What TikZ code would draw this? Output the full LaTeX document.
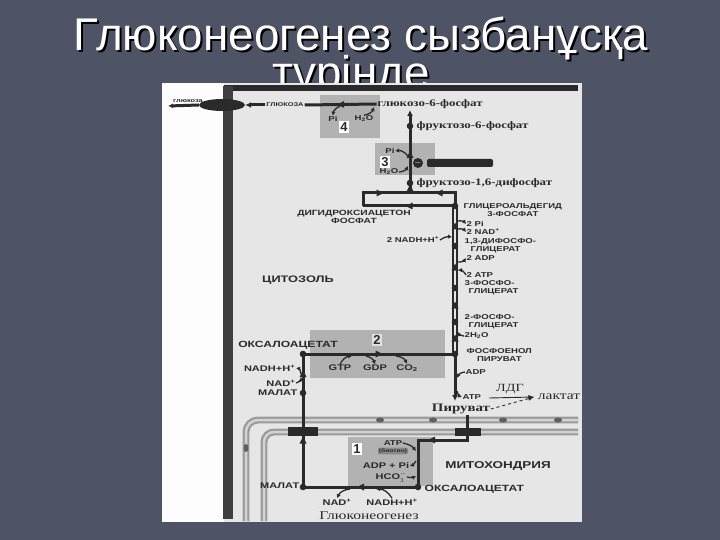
\documentclass[tikz,border=0pt]{standalone}
\usepackage{fontspec}
\setmainfont{Liberation Sans}
\newfontfamily\capfont{Liberation Sans}[FakeStretch=1.35]
\newfontfamily\serfont{Liberation Serif}[FakeStretch=1.3]
\usetikzlibrary{positioning, arrows.meta, shapes.geometric, decorations.markings}

\definecolor{slide}{HTML}{4F5366}
\definecolor{paper}{HTML}{E6E6E6}
\definecolor{ink}{HTML}{2A2A2A}
\definecolor{stagegray}{HTML}{B2B2B2}
\definecolor{membgray}{HTML}{9A9A9A}

\begin{document}
\begin{tikzpicture}[x=1bp, y=-1bp,
    pathw/.style={draw=ink, line width=3bp},
    dbl/.style={draw=ink, line width=1.5bp, double=paper, double distance=2.5bp},
    flow/.style={postaction={decorate}, decoration={markings,
        mark=at position 0.5 with {\fill[ink] (-3.5bp,-3.5bp) -- (3.5bp,0bp) -- (-3.5bp,3.5bp) -- cycle;}}},
    cof/.style={draw=ink, line width=1.3bp, -{Latex[length=4bp, width=4.5bp]}},
    memb/.style={draw=membgray, line width=2.2bp, double=membgray!45, double distance=2.5bp},
    num/.style={fill=white, font=\bfseries\fontsize{13}{13}\selectfont, text=ink, inner sep=1.5bp},
    lbl/.style={font=\capfont\bfseries\fontsize{7.1}{8}\selectfont, text=ink, inner sep=0.5bp},
    biglbl/.style={font=\capfont\bfseries\fontsize{8.2}{9}\selectfont, text=ink, inner sep=0.5bp},
    serlbl/.style={font=\serfont\bfseries\fontsize{10}{11}\selectfont, text=ink, inner sep=0.5bp},
    ttl/.style={font=\fontsize{46}{50}\selectfont, text=white, inner sep=0pt, anchor=base}]

  % slide and title
  \fill[slide] (0,0) rectangle (720,540);
  \useasboundingbox (0,0) rectangle (720,540);
  \node[ttl, text=black] (title-sh) at (363,53) {Глюконеогенез сызбанұсқа};
  \node[ttl] (title) at (361,51) {Глюконеогенез сызбанұсқа};
  \node[ttl, text=black] (title2-sh) at (353,91) {түрінде};
  \node[ttl] (title2) at (351,89) {түрінде};

  % scanned page
  \fill[paper] (162,83) rectangle (582,522);
  \fill[white!93!paper] (162,83) rectangle (224,522);

  % membranes
  \draw[ink, line width=6bp] (224,88) -- (578,88);
  \draw[ink!90, line width=10bp] (228,86) -- (228,519);
  \draw[memb, rounded corners=12bp] (246,521) -- (246,420) -- (578,420);
  \draw[memb, rounded corners=10bp] (264,521) -- (264,432) -- (578,432);
  \foreach \px in {380,433,503,558}
    \fill[ink!75] (\px,420) ellipse (4bp and 2.5bp);
  \fill[ink!75] (246,448) ellipse (2.5bp and 4bp);
  \fill[ink] (288,427) rectangle (318,436);
  \fill[ink] (455,428) rectangle (481,436);

  % stage boxes
  \fill[stagegray] (320,95) rectangle (380,138);
  \fill[stagegray] (375,143) rectangle (435,175);
  \fill[stagegray] (310,330) rectangle (445,378);
  \fill[stagegray] (348,437) rectangle (433,486);
  \node[num] (n4) at (344,127) {4};
  \node[num] (n3) at (385,162) {3};
  \node[num, fill=stagegray!40] (n2) at (377,340) {2};
  \node[num] (n1) at (357,449) {1};

  % points on the pathway
  \coordinate (glc-out) at (168,106);
  \coordinate (g6p-in) at (410,110);
  \coordinate (f6p-c) at (410,126);
  \coordinate (f16-c) at (410,183);
  \coordinate (sp-m) at (410,193);
  \coordinate (sp-l) at (363,193);
  \coordinate (sp-r) at (455,193);
  \coordinate (dhap-c) at (363,206);
  \coordinate (g3p-c) at (455,206);
  \coordinate (bpg-c) at (455,246);
  \coordinate (pg3-c) at (455,288);
  \coordinate (pg2-c) at (455,322);
  \coordinate (pep-c) at (455,354);
  \coordinate (pyr-c) at (455,401);
  \coordinate (pyr-m) at (467,415);
  \coordinate (pyr-turn) at (467,440);
  \coordinate (oaa-turn) at (418,440);
  \coordinate (oaa-m) at (418,487);
  \coordinate (mal-m) at (303,487);
  \coordinate (mal-c) at (303,393);
  \coordinate (oaa-c) at (303,354);
  \coordinate (ldh-from) at (489,398);

  % metabolites
  \node[font=\capfont\bfseries\fontsize{5.5}{6}\selectfont, text=ink] (glc-o) at (188,101) {глюкоза};
  \node[ellipse, fill=ink, minimum width=46bp, minimum height=12bp, inner sep=0pt] (glut) at (222,105) {};
  \node[font=\capfont\bfseries\fontsize{5.5}{6}\selectfont, text=ink, fill=paper, inner sep=1bp] (glc-in) at (285,105) {ГЛЮКОЗА};
  \node[serlbl] (g6p) at (430,104) {глюкозо-6-фосфат};
  \node[serlbl, anchor=west] (f6p) at (416,126) {фруктозо-6-фосфат};
  \node[serlbl, anchor=west] (f16) at (416,183) {фруктозо-1,6-дифосфат};
  \node[lbl, font=\capfont\bfseries\fontsize{7.6}{8.5}\selectfont, align=center] (dhap) at (354,217) {ДИГИДРОКСИАЦЕТОН\\ФОСФАТ};
  \node[lbl, anchor=north west, align=center] (g3p) at (463,203) {ГЛИЦЕРОАЛЬДЕГИД\\3-ФОСФАТ};
  \node[lbl, anchor=north west, align=left] (bpg) at (464,238) {1,3-ДИФОСФО-\\\hspace*{6bp}ГЛИЦЕРАТ};
  \node[lbl, anchor=north west, align=left] (pg3) at (464,280) {3-ФОСФО-\\\hspace*{4bp}ГЛИЦЕРАТ};
  \node[lbl, anchor=north west, align=left] (pg2) at (464,314) {2-ФОСФО-\\\hspace*{4bp}ГЛИЦЕРАТ};
  \node[lbl, anchor=north west, align=center] (pep) at (466,348) {ФОСФОЕНОЛ\\ПИРУВАТ};
  \node[serlbl, font=\serfont\bfseries\fontsize{11.5}{12}\selectfont] (pyr) at (461,409) {Пируват};
  \node[font=\serfont\fontsize{12}{12}\selectfont, text=ink] (lact) at (559,397) {лактат};
  \node[font=\serfont\fontsize{11}{11}\selectfont, text=ink] (ldh) at (510,389) {ЛДГ};
  \node[biglbl, font=\capfont\bfseries\fontsize{9}{10}\selectfont] (oaa) at (288,345) {ОКСАЛОАЦЕТАТ};
  \node[biglbl, anchor=east] (mal) at (298,393) {МАЛАТ};
  \node[biglbl, anchor=east] (malm) at (300,486) {МАЛАТ};
  \node[biglbl, font=\capfont\bfseries\fontsize{9}{10}\selectfont, anchor=west] (oaam) at (424,489) {ОКСАЛОАЦЕТАТ};
  \node[biglbl, font=\capfont\bfseries\fontsize{10}{11}\selectfont] (mito) at (498,466) {МИТОХОНДРИЯ};
  \node[biglbl, font=\capfont\bfseries\fontsize{9.5}{10}\selectfont] (cyto) at (298,280) {ЦИТОЗОЛЬ};
  \node[font=\serfont\fontsize{12}{12}\selectfont, text=ink] (gng) at (369,516) {Глюконеогенез};

  % cofactors
  \node[lbl] (pi4) at (333,119) {Pi};
  \node[lbl] (h2o4) at (364,119) {H\textsubscript{2}O};
  \node[lbl] (pi3) at (390,151) {Pi};
  \node[lbl] (h2o3) at (389,172) {H\textsubscript{2}O};
  \node[circle, fill=ink, inner sep=0pt, minimum size=10bp, text=white, font=\bfseries\fontsize{9}{9}\selectfont] (inh) at (418,163) {$-$};
  \node[fill=ink, rounded corners=2bp, minimum width=66bp, minimum height=8bp, inner sep=0pt] (amp) at (460,163) {};
  \node[lbl, anchor=west] (pi2x) at (466,224) {2 Pi};
  \node[lbl, anchor=west] (nad2x) at (466,232) {2 NAD\textsuperscript{+}};
  \node[lbl, anchor=east] (nadh2x) at (440,240) {2 NADH+H\textsuperscript{+}};
  \node[lbl, anchor=west] (adp2x) at (466,258) {2 ADP};
  \node[lbl, anchor=west] (atp2x) at (466,275) {2 ATP};
  \node[lbl, anchor=west] (h2o2x) at (464,336) {2H\textsubscript{2}O};
  \node[lbl, anchor=west] (adp1) at (465,372) {ADP};
  \node[lbl, anchor=west] (atp1) at (462,397) {ATP};
  \node[biglbl] (gtp) at (340,368) {GTP};
  \node[biglbl] (gdp) at (375,368) {GDP};
  \node[biglbl] (co2) at (407,368) {CO\textsubscript{2}};
  \node[biglbl, anchor=east] (nadhc) at (296,368) {NADH+H\textsuperscript{+}};
  \node[biglbl, anchor=east] (nadc) at (296,383) {NAD\textsuperscript{+}};
  \node[lbl] (atpb) at (393,443) {ATP};
  \node[lbl, font=\capfont\bfseries\fontsize{5}{5}\selectfont, fill=stagegray!70!ink, rounded corners=2bp, inner sep=1bp] (biot) at (393,451) {(биотин)};
  \node[biglbl] (adppi) at (386,466) {ADP + Pi};
  \node[biglbl] (hco3) at (391,477) {HCO$_3^-$};
  \node[biglbl] (nadm) at (337,502) {NAD\textsuperscript{+}};
  \node[biglbl] (nadhm) at (392,502) {NADH+H\textsuperscript{+}};

  % pathway
  \draw[pathw, -{Latex[length=6bp, width=6bp]}] (glc-in.west) -- (glut.east);
  \draw[pathw, -{Latex[length=5bp, width=5bp]}] (glut.west) -- (glc-out);
  \draw[pathw, flow] (g6p.west) -- (glc-in.east);
  \draw[pathw, -{Latex[length=6bp, width=6bp]}] (f6p-c) -- (g6p-in);
  \draw[pathw, flow] (f16-c) -- (f6p-c);
  \draw[pathw, flow] (sp-m) -- (f16-c);
  \draw[pathw, flow] (g3p-c) -- (sp-r) -- (sp-m);
  \draw[pathw, flow] (dhap-c) -- (sp-l) -- (sp-m);
  \draw[pathw, flow] (g3p-c) -- (dhap-c);
  \draw[dbl, flow] (bpg-c) -- (g3p-c);
  \draw[dbl, flow] (pg3-c) -- (bpg-c);
  \draw[dbl, flow] (pg2-c) -- (pg3-c);
  \draw[dbl, flow] (pep-c) -- (pg2-c);
  \draw[pathw, -{Latex[length=6bp, width=6bp]}] (pep-c) -- (pyr-c);
  \draw[pathw, flow] (pyr-m) -- (pyr-turn) -- (oaa-turn) -- (oaa-m);
  \draw[pathw, flow] (oaa-m) -- (mal-m);
  \draw[pathw, flow] (mal-m) -- (mal-c);
  \draw[pathw, flow] (mal-c) -- (oaa-c);
  \draw[pathw, flow] (oaa-c) -- (pep-c);
  \draw[ink, line width=0.9bp, -{Latex[length=6bp]}] (ldh-from) -- (lact.west);
  \draw[ink, line width=0.9bp, dashed, -{Latex[length=6bp]}] (pyr.east) -- (lact.west);
  \foreach \c in {f6p-c, f16-c, g3p-c, bpg-c, pg3-c, pg2-c, pep-c, oaa-c, mal-c, mal-m, oaa-m}
    \fill[ink] (\c) circle (3.3bp);

  % cofactor arrows
  \draw[cof] (340,106) to[bend right=30] (pi4.north);
  \draw[cof] (h2o4.north) to[bend right=30] (374,107);
  \draw[cof] (408,156) to[bend right=30] (pi3.east);
  \draw[cof] (h2o3.east) to[bend right=30] (408,166);
  \draw[cof] (458,221) to[bend left=30] (pi2x.west);
  \draw[cof] (458,229) to[bend left=30] (nad2x.west);
  \draw[cof] (nadh2x.east) to[bend left=20] (452,237);
  \draw[cof] (458,262) to[bend right=30] (adp2x.west);
  \draw[cof] (atp2x.west) to[bend right=30] (458,270);
  \draw[cof] (h2o2x.west) to[bend left=30] (458,332);
  \draw[cof] (adp1.west) to[bend right=30] (457,378);
  \draw[cof] (457,391) to[bend right=30] (atp1.west);
  \draw[cof] (gtp.north) to[bend left=30] (352,356);
  \draw[cof] (366,356) to[bend left=30] (gdp.north);
  \draw[cof] (396,356) to[bend left=30] (co2.north);
  \draw[cof] (nadc.east) to[bend right=40] (301,377);
  \draw[cof] (301,374) to[bend right=40] (nadhc.east);
  \draw[cof] (atpb.east) to[bend left=20] (416,451);
  \draw[cof] (416,461) to[bend left=20] (adppi.east);
  \draw[cof] (hco3.east) to[bend right=20] (416,476);
  \draw[cof] (nadhm.north) to[bend right=30] (376,489);
  \draw[cof] (350,489) to[bend right=30] (nadm.north);
\end{tikzpicture}
\end{document}
